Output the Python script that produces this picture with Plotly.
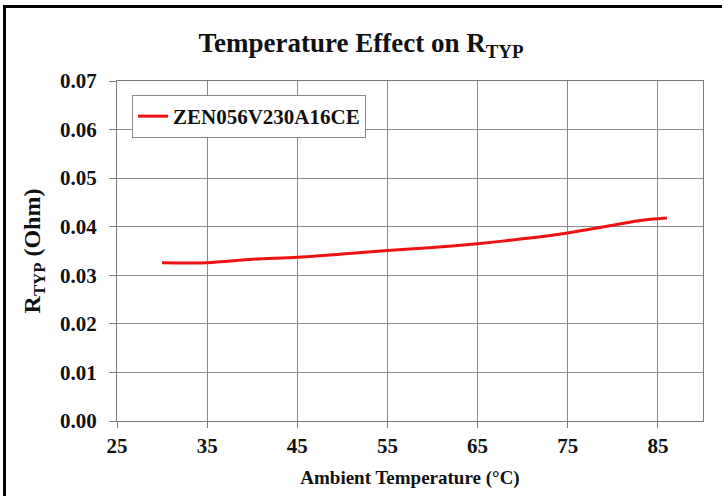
import plotly.graph_objects as go

temps = [30, 35, 40, 45, 50, 55, 60, 65, 70, 75, 80, 83, 86]
r_typ = [0.0326, 0.0326, 0.0333, 0.0337, 0.0344, 0.0351, 0.0357, 0.0365, 0.0375, 0.0387, 0.0403, 0.0413, 0.0418]
series_name = "ZEN056V230A16CE"
x_ticks = [25, 35, 45, 55, 65, 75, 85]
y_ticks = [0.00, 0.01, 0.02, 0.03, 0.04, 0.05, 0.06, 0.07]

FONT = "Liberation Serif, Times New Roman, serif"

fig = go.Figure()
fig.add_trace(go.Scatter(
    x=temps, y=r_typ, mode="lines", name=series_name,
    line=dict(color="#ee1111", width=3, shape="spline", smoothing=0.8),
))

W, H = 722, 496
L, R, T, B = 117, 19, 81, 75
pw, ph = W - L - R, H - T - B

def px(xp):
    return (xp - L) / pw

def py(yp):
    return (H - B - yp) / ph

fig.update_layout(
    width=W, height=H,
    margin=dict(l=L, r=R, t=T, b=B, autoexpand=False),
    paper_bgcolor="white", plot_bgcolor="white",
    font=dict(family=FONT, color="#111111", size=20, weight="bold"),
    title=dict(text="Temperature Effect on R<sub>TYP</sub>", x=0.5, xanchor="center",
               y=1 - 43 / H, yanchor="middle",
               font=dict(family=FONT, size=27, weight="bold", color="#111111")),
    showlegend=True,
    legend=dict(x=px(132), y=py(95), xanchor="left", yanchor="top",
                bgcolor="white", bordercolor="#888888", borderwidth=1,
                font=dict(family=FONT, size=21, weight="bold", color="#111111"),
                itemwidth=30),
    xaxis=dict(range=[25, 90], tickvals=x_ticks, ticktext=[str(v) for v in x_ticks],
               showgrid=True, gridcolor="#8a8a8a", gridwidth=1,
               showline=True, linecolor="#7a7a7a", linewidth=1, mirror=True,
               ticks="outside", ticklen=6, tickcolor="#7a7a7a",
               zeroline=False,
               tickfont=dict(family=FONT, size=21, weight="bold"),
               title=dict(text="Ambient Temperature (°C)", standoff=13,
                          font=dict(family=FONT, size=19, weight="bold"))),
    yaxis=dict(range=[0, 0.07], tickvals=y_ticks, ticktext=[f"{v:.2f}" for v in y_ticks],
               showgrid=True, gridcolor="#8a8a8a", gridwidth=1,
               showline=True, linecolor="#7a7a7a", linewidth=1, mirror=True,
               ticks="outside", ticklen=7, tickcolor="#7a7a7a",
               ticklabelstandoff=8,
               zeroline=False,
               tickfont=dict(family=FONT, size=21, weight="bold"),
               title=dict(text="R<sub>TYP</sub> (Ohm)", standoff=12,
                          font=dict(family=FONT, size=24, weight="bold"))),
)

# outer black frame (top and left edges)
fig.add_shape(type="line", xref="paper", yref="paper",
              x0=px(3), x1=px(722), y0=py(6.5), y1=py(6.5),
              line=dict(color="black", width=3))
fig.add_shape(type="line", xref="paper", yref="paper",
              x0=px(4.5), x1=px(4.5), y0=py(5), y1=py(496),
              line=dict(color="black", width=3))

fig.write_html("out.html", config={"displayModeBar": False},
               post_script="document.body.style.margin='0';document.body.style.padding='0';")
